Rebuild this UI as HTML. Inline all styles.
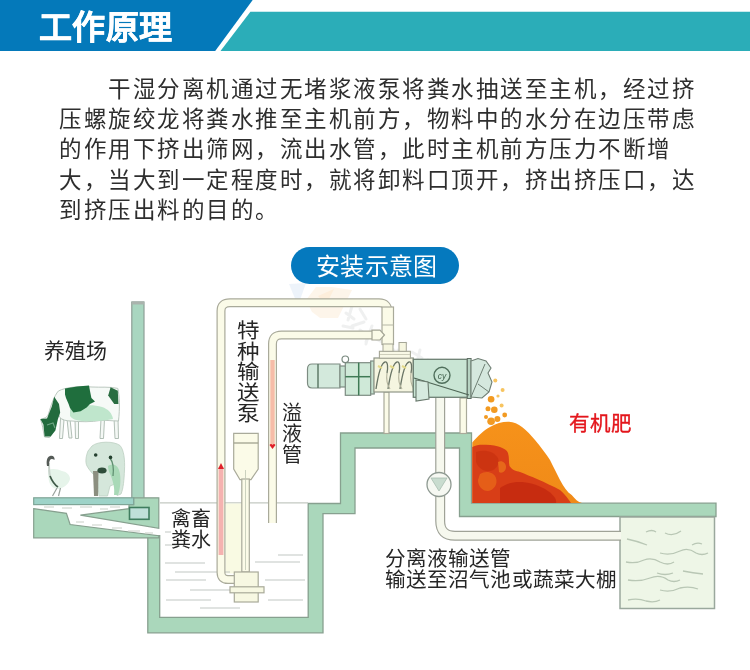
<!DOCTYPE html>
<html lang="zh-CN">
<head>
<meta charset="utf-8">
<style>
html,body{margin:0;padding:0;background:#fff;}
body{width:750px;height:670px;position:relative;overflow:hidden;font-family:"Liberation Sans",sans-serif;}
.abs{position:absolute;white-space:nowrap;will-change:transform;}
#title{left:39px;top:6.4px;font-size:33px;font-weight:bold;color:#fff;line-height:44px;letter-spacing:0.3px;-webkit-text-stroke:0.5px #fff;}
#para{left:59.2px;top:74.8px;font-size:22.5px;line-height:30.2px;color:#2e2e2e;letter-spacing:1.52px;}
#pill{left:291px;top:247px;width:168px;height:37px;border-radius:19px;background:#0579be;}
#pilltxt{left:315.5px;top:251px;font-size:24px;line-height:32px;color:#fff;letter-spacing:0.3px;}
.lbl{color:#262626;font-size:20px;}
.v{line-height:20.3px;white-space:normal;width:22px;}
</style>
</head>
<body>
<svg class="abs" style="left:0;top:0" width="750" height="670" viewBox="0 0 750 670">
  <!-- header -->
  <polygon points="0,0 252.7,0 215.2,51 0,51" fill="#0479ba"/>
  <polygon points="250.4,11.7 750,11.7 750,51 220.5,51" fill="#2badb8"/>

  <!-- ===== DIAGRAM ===== -->
  <polygon id="ground" points="147.8,535.7 147.8,632.8 323,632.8 323,513.6 355,513.6 355,448 459.5,448 459.5,516.5 716,516.5 716,503.2 471.5,503.2 471.5,433 340.5,433 340.5,503.5 308.2,503.5 308.2,617.3 159.7,617.3 159.7,535.7" fill="#aad7bb" stroke="#87a08f" stroke-width="1.3" stroke-linejoin="miter"/>
  <!-- tank -->
  <rect x="620" y="517" width="94.5" height="91.5" fill="#eef6e7" stroke="#9aa89d" stroke-width="1.5"/>
  <g stroke="#b9c7b5" stroke-width="1.3" fill="none">
    <path d="M646,532 q6,-3 10,0 M665,533 q8,4 16,-2 M692,545 q5,-3 10,-1 M627,539 q10,2 20,6 M660,553 q10,3 20,-2 q8,-4 16,2 q6,3 12,0"/>
    <path d="M626,562 q10,2 18,-2 q8,-3 16,2 q8,4 14,0 M657,573 q8,3 16,0 M683,571 q10,2 20,3 M628,580 q12,2 22,-2 q10,-4 18,2 q6,3 12,0 M660,590 q10,3 20,-2 q10,-2 18,1 M628,600 q10,-2 18,1 q8,2 14,-1"/>
  </g>

  <!-- cow -->
  <g id="cow">
    <g fill="#f4f8f5" stroke="#a9b8ae" stroke-width="0.9">
      <path d="M60.5,418 L59.5,438.5 L62.5,438.5 L64,420 Z"/>
      <path d="M67,419 L69,438 L72,438 L70,419 Z"/>
      <path d="M75,420 L75.5,438.5 L78.5,438.5 L78.5,420 Z"/>
      <path d="M101,419 L100,438.5 L103.5,438.5 L104.5,419 Z"/>
      <path d="M114,418 L115,438.5 L118.5,438.5 L118,418 Z"/>
    </g>
    <path d="M58.4,391 C66,387 80,386 92,387 C100,387.5 110,386.5 117.8,388.4 C119.5,396 120,408 118.5,421 C112,421 106,420 100,420.5 C92,422 80,422 72,421 C66,421 62,420 59.5,417 C58.5,414 58,412 58,410 L56,420 C55,428 53,434 49.4,437.6 L44.5,437 C43,430 42.5,424 40.5,419.5 C44,418 47,418 48.5,414 C51,405 54,396 58.4,391 Z" fill="#f6faf7" stroke="#b3c2b8" stroke-width="0.9"/>
    <path d="M70,409 C80,405 92,404 102,407 C108,409 112,413 113,419 C104,421 92,421.5 82,421 C76,420.5 72,419 70,416 Z" fill="#bfe6cc"/>
    <path d="M65,388.4 L77,386.6 L89,385.6 L90,391 L91.4,398 L95,401.6 L90,404 L86.6,407.6 L80.6,411.2 L73.4,412.4 L70,408 L68.6,404 L66,398 L65,394.4 Z" fill="#1f6e3d"/>
    <path d="M54.2,396.8 L59,404 L60.2,412.4 L57.8,419.6 L55.4,430.4 L50.6,436.4 L44.6,436.4 L43.4,424.4 L40.4,419 L47,418.4 L51.8,406.4 Z" fill="#226b3d"/>
    <path d="M110.6,387.2 L117.8,390.8 L118.4,404 L114.2,404 L108.2,395.6 Z" fill="#2a6e42"/>
    <path d="M47,425 L53,423 L55,428" fill="none" stroke="#6fa585" stroke-width="1.2"/>
  </g>
  <!-- chicken -->
  <g id="chicken">
    <path d="M48,470 C52,468 58,469 62,471 C67,472 70,475 70,479 C69,484 64,488 58,489 C54,489 50,486 49,481 C48,477 48,473 48,470 Z" fill="#e6f4ea"/>
    <path d="M49,463 C49,468 49,472 50,476" fill="none" stroke="#c9d3cc" stroke-width="2"/>
    <path d="M47,466 C46,461 47,457 50,456 C53,455 55,457 54.5,460 C53,459 51,458.5 50,460 C49,462 49,464 49,466 Z" fill="#555b57"/>
    <path d="M50,476 C52,481 55,485 58,487" fill="none" stroke="#3f5a48" stroke-width="1.8"/>
    <path d="M57,488 L52.5,496 M60.5,488 L58.5,496" fill="none" stroke="#9aa39d" stroke-width="1.2"/>
  </g>
  <!-- pig -->
  <g id="pig">
    <path d="M92,446 C98,441 114,441 120,445.5 C124,450 125,460 124.5,470 C124,480 123.5,488 121,494 L117,495.5 L115,484 L110,486 L107.5,496 L99,496 L97,478 C93,474 89,470 87,466 C85,462 86,456 88,451 Z" fill="#d5e7db" stroke="#bccfc2" stroke-width="0.8"/>
    <path d="M108,466 C114,462 119,466 120,474 C121,482 120,490 118,495 L114,495 C115,488 113,482 111,476 C109,472 108,469 108,466 Z" fill="#a9d9b7"/>
    <path d="M110,458 C113,462 114,468 113,476" fill="none" stroke="#5f8f70" stroke-width="1.3"/>
    <path d="M93,471 L98.5,471 L98,496 L94,496 Z" fill="#8c8f80"/>
    <circle cx="95.7" cy="455" r="1.8" fill="#24402f"/>
    <circle cx="110.5" cy="457.4" r="1.8" fill="#24402f"/>
    <ellipse cx="102" cy="470.4" rx="4.6" ry="3" fill="#2f4d3a"/>
  </g>
  <!-- platform / left building -->
  <rect x="131.8" y="302" width="12.2" height="198" fill="#a9d6c0" stroke="#8e9e96" stroke-width="1.2"/>
  <rect x="131.8" y="301.5" width="12.2" height="3" fill="#aab3ad"/>
  <polygon points="33.7,508.7 66.4,513.3 70.1,524.5 158.8,535.7 158.8,537.8 33.7,537.8" fill="#aad7bb" stroke="#87a08f" stroke-width="1.2"/>
  <polygon points="80.4,515.2 129,508.7 129,504.6 133.6,504.6 133.6,497.8 158.8,497.8 158.8,528.3" fill="#aad7bb" stroke="#87a08f" stroke-width="1.2"/>
  <rect x="33.7" y="497.8" width="100" height="6.8" fill="#9ed3c8" stroke="#7fa597" stroke-width="1.2"/>
  <rect x="129.5" y="507.5" width="19.5" height="11.8" fill="#bfe0d9" stroke="#3f7d5f" stroke-width="1.6"/>
  <g stroke="#c9cfc7" stroke-width="1" fill="none">
    <path d="M44,507 h10 M62,508 h10 M80,507 h12 M100,509 h8 M110,507 h10 M76,522 h8 M92,525 h10 M112,528 h10 M128,531 h12 M145,533 h8"/>
  </g>
  <!-- pit water -->
  <line x1="160" y1="502.8" x2="308" y2="502.8" stroke="#c3c9c2" stroke-width="1.2"/>
  <rect x="225.5" y="503.5" width="16" height="70" fill="#f8f9e0" opacity="0.9"/>
  <g stroke="#c2c8c3" stroke-width="1.2" fill="none">
    <path d="M165,563 h40 M175,572 h55 M166,580 h40 M190,590 h40 M166,600 h45 M200,608 h40 M278,555 h25 M255,562 h45 M265,580 h40 M268,600 h35 M165,532 h6 M165,545 h15"/>
  </g>


  <!-- watermark -->
  <g opacity="0.7">
    <polygon points="289,284 306,283 300,300 296,301" fill="#e6eef8"/>
    <polygon points="306,300 316,287 332,287 352,290 338,318 320,318 312,312" fill="#fdf1e2"/>
    <polygon points="318,296 334,289 326,305" fill="#fde7cc"/>
    <g fill="none" stroke="#e9eaea" stroke-width="3" stroke-linecap="round">
      <path d="M346,313 l8,6 M352,306 l-4,14 M360,309 l6,10 M364,322 l-12,4 M343,326 l10,2"/>
      <path d="M360,330 l8,6 l-2,8 M372,326 l-6,16 M374,338 l8,4"/>
      <path d="M384,344 l10,6 M390,338 l-4,16 M398,350 l6,8 M406,343 l-8,14"/>
      <path d="M412,352 l10,6 M420,350 l-4,16 M428,360 l6,8"/>
    </g>
  </g>
  <!-- pipes -->
  <g fill="none" stroke-linejoin="round">
    <path id="p1" d="M234,579.5 H228 Q221,579.5 221,572.5 V311 Q221,302.8 230,302.8 H379 Q388,302.8 388,312 V344" stroke="#a9aa9a" stroke-width="9"/>
    <path d="M234,579.5 H228 Q221,579.5 221,572.5 V311 Q221,302.8 230,302.8 H379 Q388,302.8 388,312 V344" stroke="#fbfbe8" stroke-width="6.6"/>
    <path d="M272.5,523 V344 Q272.5,335 281.5,335 H373" stroke="#a9aa9a" stroke-width="9"/>
    <path d="M272.5,523 V344 Q272.5,335 281.5,335 H373" stroke="#fbfbe8" stroke-width="6.6"/>
  </g>
  <rect x="382" y="307" width="11.5" height="37.5" fill="#fbfbe8" stroke="#a9aa9a" stroke-width="1.2"/>
  <line x1="382" y1="325" x2="393.5" y2="325" stroke="#b5b6a6" stroke-width="1"/>
  <path d="M372,330.2 H380 L384.5,335 L380,340 H372 Z" fill="#fbfbe8" stroke="#a3a494" stroke-width="1.2"/>
  <!-- red flow stripes -->
  <rect x="218.6" y="467" width="4.8" height="88" fill="#f5b2b0"/>
  <polygon points="221,463 224,469 218,469" fill="#e0202a"/>
  <rect x="270.3" y="360" width="4.4" height="86" fill="#f6bca8"/>
  <path d="M269.5,445 q1.5,-2 3,0 q1.5,-2 3,0 l-3,4 z" fill="#e0202a"/>
  <!-- pump -->
  <path d="M233.7,433.4 H258.2 V469 L251,479.7 H240 L233.7,469 Z" fill="#fbfbe8" stroke="#a9aa9a" stroke-width="1.2"/>
  <line x1="233.7" y1="443" x2="258.2" y2="443" stroke="#9fa18f" stroke-width="1.3"/>
  <rect x="241.8" y="479" width="7.5" height="93" fill="#fbfbe8" stroke="#a9aa9a" stroke-width="1.2"/>
  <line x1="245.5" y1="470" x2="245.5" y2="570" stroke="#bfc6b2" stroke-width="0.8"/>
  <rect x="234.3" y="572" width="23.9" height="30" fill="#f7f8e2" stroke="#a9aa9a" stroke-width="1.2"/>
  <rect x="230" y="586.8" width="34" height="6" fill="#f7f8e2" stroke="#a9aa9a" stroke-width="1.2"/>
  <!-- machine legs & valve pipe -->
  <g stroke="#a9aa9a" stroke-width="1.2" fill="#fbfbe8">
    <rect x="384" y="392" width="5" height="41.5"/>
    <rect x="460" y="398" width="6.5" height="35.5"/>
  </g>
  <g fill="none" stroke-linejoin="round">
    <path d="M440.2,396 V521 Q440.2,535.8 455,535.8 H621" stroke="#9fa297" stroke-width="10"/>
    <path d="M440.2,396 V521 Q440.2,535.8 455,535.8 H621" stroke="#f6f8ee" stroke-width="7.6"/>
  </g>
  <circle cx="439" cy="484.5" r="12" fill="#f6f8f2" stroke="#8f9a92" stroke-width="1.3"/>
  <polygon points="431,478 447,478 439,491" fill="#c9dccf" stroke="#a8bcb0" stroke-width="0.8"/>
  <!-- machine -->
  <g stroke="#7d8c82" stroke-width="1.2">
    <path d="M312,364 H340 V388 H312 Q307.5,388 307.5,383 V369 Q307.5,364 312,364 Z" fill="#d3e9dc"/>
    <line x1="318" y1="364" x2="318" y2="388" stroke="#5f7a68" stroke-width="1.5"/>
    <rect x="340" y="366" width="6" height="21" fill="#c6e3d1"/>
    <rect x="345.3" y="362.7" width="25.4" height="32.6" fill="#cfe9d8"/>
    <line x1="345.3" y1="376.7" x2="370.7" y2="376.7" stroke="#3f7a55" stroke-width="1.5"/>
    <line x1="358.7" y1="362.7" x2="358.7" y2="395.3" stroke="#3f7a55" stroke-width="1.5"/>
    <rect x="370.7" y="361" width="3.5" height="33" fill="#c6e3d1"/>
    <circle cx="345.3" cy="359.3" r="3.3" fill="none" stroke="#7a8a80"/>
  </g>
  <!-- screw section -->
  <rect x="374" y="358" width="39.3" height="34" fill="#f5f5e0" stroke="#8f9688" stroke-width="1.2"/>
  <path d="M376,389 C378,376 381,363 385,362 C388,361 388,368 387,373 M388,389 C390,376 393,363 397,362 C400,361 400,368 399,373 M400,389 C402,376 405,363 409,362 C412,361 412,368 411,373" fill="none" stroke="#6a7566" stroke-width="1.3"/>
  <path d="M387,373 C386,380 388,386 390,389 M399,373 C398,380 400,386 402,389 M411,373 C410,380 412,386 414,389" fill="none" stroke="#b3b39c" stroke-width="1.1"/>
  <path d="M378,366 l4,2 M390,366 l4,2 M402,366 l4,2" stroke="#e3d98a" stroke-width="2" fill="none"/>
  
  <rect x="379.4" y="351.3" width="31" height="6.9" fill="#f8f8e6" stroke="#a5a696" stroke-width="1.1"/>
  <line x1="380" y1="354.5" x2="410" y2="354.5" stroke="#c3c3b0" stroke-width="0.8"/>
  <rect x="383" y="344" width="10" height="7.3" fill="#f6f6e0" stroke="#a5a696" stroke-width="1"/>
  <rect x="399" y="342.5" width="7.3" height="8.8" fill="#f6f6e0" stroke="#a5a696" stroke-width="1"/>
  <!-- screen section -->
  <rect x="413.3" y="359.3" width="54" height="38" fill="#c9e5d4" stroke="#6d7f73" stroke-width="1.3"/>
  <rect x="467.3" y="358.5" width="3.8" height="40" fill="#b7d3c2" stroke="#5f6f65" stroke-width="1"/>
  <circle cx="442" cy="375.3" r="8" fill="none" stroke="#4f6f5b" stroke-width="1.4"/>
  <text x="442" y="378.5" font-size="8.5" text-anchor="middle" fill="#3f5f4b" font-family="Liberation Sans" font-style="italic">cy</text>
  <line x1="414" y1="378" x2="469" y2="395" stroke="#4f6656" stroke-width="1.2"/>
  <path d="M416,380 L428,382 L429,399 L416,401 Z" fill="#d6eadf" stroke="#6a7a6e" stroke-width="1.1"/>
  <path d="M471,361 L478,358.5 L486,361 L491,368 L488,373 L492,382 L489,392 L482,398 L471,397 Z" fill="#d5e8de" stroke="#6f7f74" stroke-width="1.1"/>
  <path d="M471,397 L485,364 M478,384 L489,392" fill="none" stroke="#6f7f74" stroke-width="1"/>

  <!-- fertilizer pile -->
  <defs>
    <linearGradient id="og" x1="0" y1="0" x2="0" y2="1">
      <stop offset="0" stop-color="#f6921a"/>
      <stop offset="1" stop-color="#f08a18"/>
    </linearGradient>
  </defs>
  <path d="M472.3,503 V442.5 C478,436 484,430 490,427 C496,423 503,421.5 509,421.7 C518,422 527,430 535,440 C541,447 546,454 550,460 C554,468 557,474 560,480 C564,487 567,492 571.7,495 C575,499 578,502 582,503 Z" fill="url(#og)"/>
  <path d="M472.3,503 V447 C476,445 480,444.5 486,444.8 C492,445 497,446 500,447 C504,448.5 507,450 508,453 C509.5,458 508.5,462 509.5,466 C512,470 516,471 520,472 C530,476 545,482 560,490 C565,494 568,499 571,503 Z" fill="#d83e17"/>
  <path d="M500,488 C512,479 530,481 545,489 C553,494 557,499 556,503 L500,503 Z" fill="#c4290f" opacity="0.85"/>
  <path d="M476,452 C484,449 494,451 498,458 C500,464 496,470 490,471 C484,472 478,468 476,462 Z" fill="#c8300f" opacity="0.7"/>
  <path d="M480,474 C486,470 494,472 496,478 C498,484 494,490 488,491 C482,491 478,486 478,480 Z" fill="#ea6a1a" opacity="0.75"/>
  <path d="M498,462 C502,460 506,463 506,467 C506,471 502,474 499,472 Z" fill="#ec7a1d" opacity="0.7"/>
  <g fill="#f29a22">
    <circle cx="491.1" cy="399.3" r="3.3"/><circle cx="488" cy="408.7" r="2.5"/><circle cx="494.3" cy="409.7" r="3.3"/>
    <circle cx="504.7" cy="415" r="2.4"/><circle cx="491.1" cy="421.2" r="3.8"/><circle cx="497.4" cy="419.1" r="3"/>
    <circle cx="486" cy="417" r="2"/>
  </g>
  <g fill="#f7c460">
    <circle cx="495.3" cy="380.4" r="2"/><circle cx="502.6" cy="389.9" r="2"/><circle cx="501.6" cy="405.5" r="2"/><circle cx="498" cy="396" r="1.6"/>
  </g>
</svg>
<div id="title" class="abs">工作原理</div>
<div id="para" class="abs">　　干湿分离机通过无堵浆液泵将粪水抽送至主机，经过挤<br>压螺旋绞龙将粪水推至主机前方，物料中的水分在边压带虑<br>的作用下挤出筛网，流出水管，此时主机前方压力不断增<br>大，当大到一定程度时，就将卸料口顶开，挤出挤压口，达<br>到挤压出料的目的。</div>
<div id="pill" class="abs"></div>
<div id="pilltxt" class="abs">安装示意图</div>

<div class="abs lbl" style="left:43.5px;top:338px;line-height:26px;font-size:21px;letter-spacing:0.2px;">养殖场</div>
<div class="abs lbl v" style="left:237px;top:320.7px;font-size:20.5px;line-height:20.7px;transform:scaleX(1.1);transform-origin:0 0;">特种输送泵</div>
<div class="abs lbl v" style="left:281.5px;top:402.5px;line-height:21.2px;">溢液管</div>
<div class="abs lbl" style="left:171px;top:509px;line-height:20.5px;letter-spacing:0px;">禽畜<br>粪水</div>
<div class="abs" style="left:569px;top:410.5px;font-size:20.5px;line-height:26px;color:#e3161c;letter-spacing:1.2px;-webkit-text-stroke:0.35px #e3161c;">有机肥</div>
<div class="abs lbl" style="left:384.5px;top:547.5px;line-height:21.4px;letter-spacing:0.1px;font-size:20.6px;">分离液输送管<br>输送至沼气池或蔬菜大棚</div>
</body>
</html>
